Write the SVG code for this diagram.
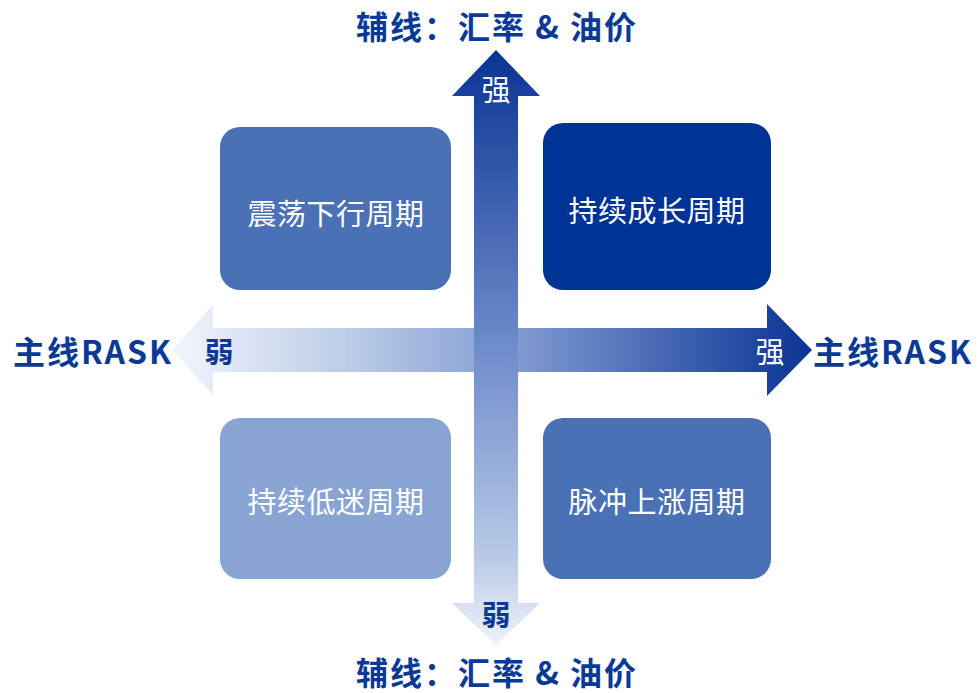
<svg xmlns="http://www.w3.org/2000/svg" width="980" height="693" viewBox="0 0 980 693">
<defs>
<linearGradient id="gh" x1="172" y1="0" x2="812" y2="0" gradientUnits="userSpaceOnUse">
<stop offset="0" stop-color="#f2f5fb"/>
<stop offset="0.3" stop-color="#b7c8e6"/>
<stop offset="0.55" stop-color="#7e98d0"/>
<stop offset="1" stop-color="#0a3494"/>
</linearGradient>
<linearGradient id="gv" x1="0" y1="50" x2="0" y2="645" gradientUnits="userSpaceOnUse">
<stop offset="0" stop-color="#0a3494"/>
<stop offset="0.5" stop-color="#6f8ccb"/>
<stop offset="0.85" stop-color="#b7c9e6"/>
<stop offset="1" stop-color="#eef3fa"/>
</linearGradient>
<style>
.box text{font-family:"Noto Sans CJK SC","Noto Sans",sans-serif;font-size:29px;letter-spacing:0.5px;fill:#fff;text-anchor:middle;dominant-baseline:central}
.lbl{font-family:"Noto Sans CJK SC","Noto Sans",sans-serif;font-size:32px;letter-spacing:2px;font-weight:bold;fill:#0b3a96;dominant-baseline:central}
.in{font-family:"Noto Sans CJK SC","Noto Sans",sans-serif;font-size:29px;fill:#fff;text-anchor:middle;dominant-baseline:central}
.inb{font-family:"Noto Sans CJK SC","Noto Sans",sans-serif;font-size:29px;font-weight:bold;fill:#0b3a96;text-anchor:middle;dominant-baseline:central}
</style>
</defs>
<rect width="980" height="693" fill="#fff"/>
<g id="box-tl" class="box"><rect x="220" y="127" width="231" height="163" rx="20" fill="#4a70b6"/><text x="336" y="212">震荡下行周期</text></g>
<g id="box-tr" class="box"><rect x="543" y="123" width="228" height="167" rx="20" fill="#003396"/><text x="657" y="209">持续成长周期</text></g>
<g id="box-bl" class="box"><rect x="220" y="418" width="231" height="161" rx="20" fill="#88a4d3"/><text x="336" y="500">持续低迷周期</text></g>
<g id="box-br" class="box"><rect x="543" y="418" width="228" height="161" rx="20" fill="#4a70b6"/><text x="657" y="500">脉冲上涨周期</text></g>
<g id="connectors">
<polygon points="172,350 213,305 213,328 767,328 767,304 812,350 767,396 767,372 213,372 213,395" fill="url(#gh)"/>
<polygon points="496,50 540,96 518,96 518,603 540,603 496,645 452,603 474,603 474,96 452,96" fill="url(#gv)"/>
</g>
<g id="labels">
<text class="lbl" x="497" y="25" text-anchor="middle">辅线：汇率 &amp; 油价</text>
<text class="lbl" x="497" y="671" text-anchor="middle">辅线：汇率 &amp; 油价</text>
<text class="lbl" x="13" y="350">主线RASK</text>
<text class="lbl" x="813" y="350">主线RASK</text>
<text class="in" x="496" y="88">强</text>
<text class="in" x="770" y="350">强</text>
<text class="inb" x="219" y="350">弱</text>
<text class="inb" x="496" y="613">弱</text>
</g>
</svg>
